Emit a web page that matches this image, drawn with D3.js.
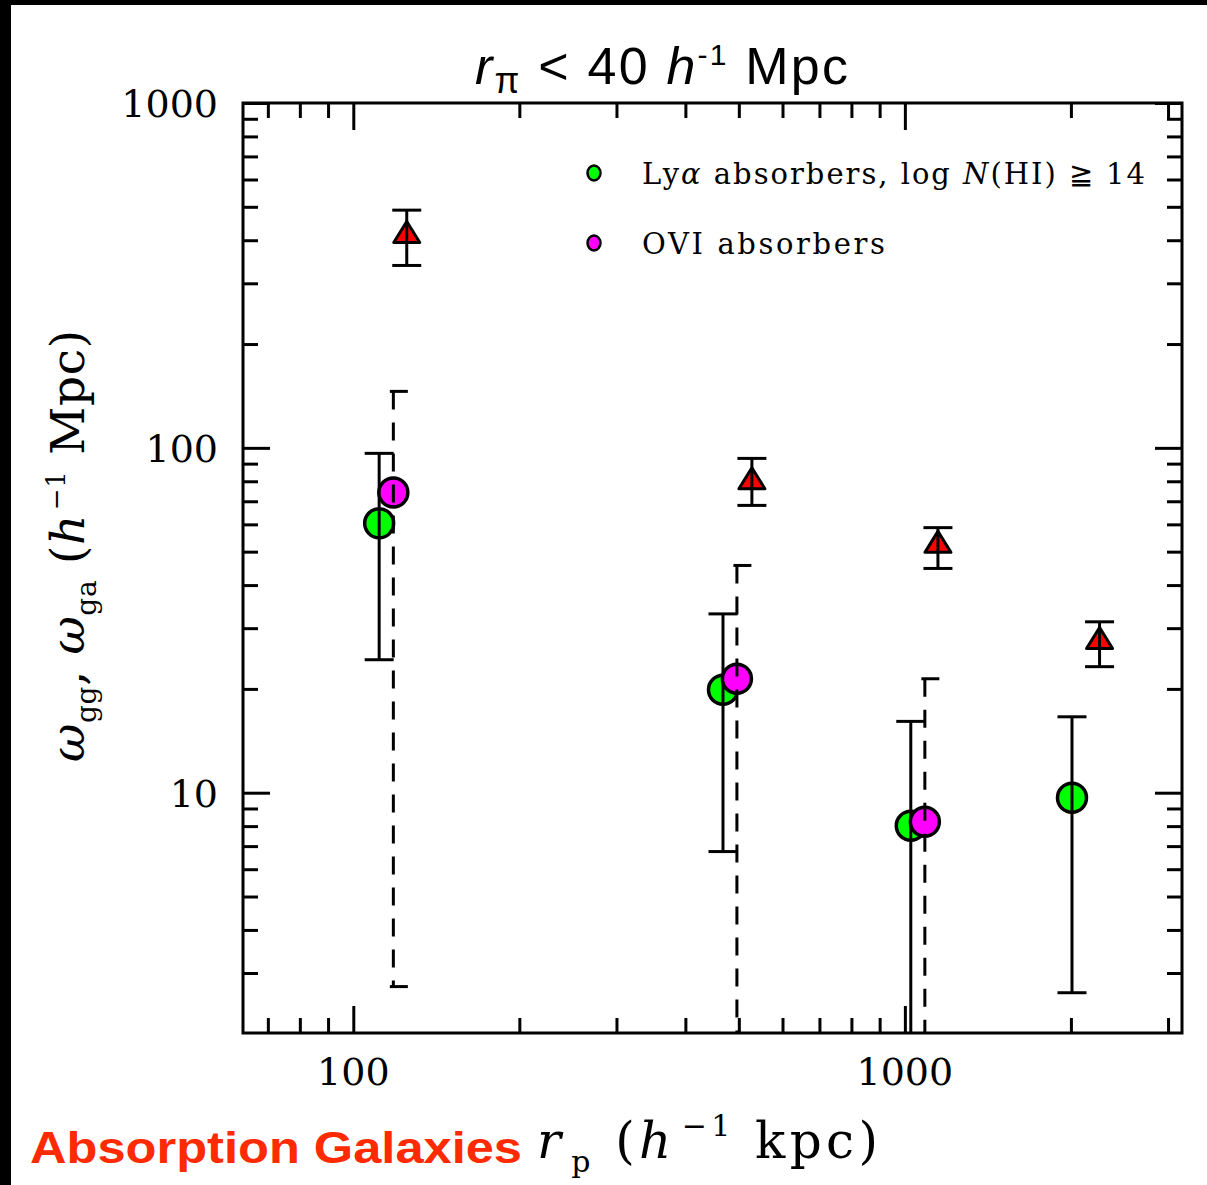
<!DOCTYPE html>
<html><head><meta charset="utf-8">
<script src="https://cdn.jsdelivr.net/npm/d3@7"></script>
<style>body{margin:0;background:#fff}svg{display:block}</style>
</head><body>
<svg id="c" width="1207" height="1185"></svg>
<script>
// ---- data ----
const rpGG   = [125, 528, 1148, 2254];
const wGG    = [421, 81.4, 53.2, 28.0];
const wGGhi  = [489, 93.2, 58.7, 31.3];
const wGGlo  = [338, 68.1, 44.7, 23.2];

const rpLya  = [111.4, 468, 1025, 2009];
const wLya   = [60.4, 19.9, 8.02, 9.67];
const wLyaHi = [96.4, 33.0, 16.1, 16.6];
const wLyaLo = [24.3, 6.75, 1.0, 2.63];

const rpOVI  = [118.2, 496, 1087];
const wOVI   = [74.2, 21.4, 8.24];
const wOVIHi = [145.8, 45.6, 21.4];
const wOVILo = [2.74, 1.0, 1.0];

const xMajor = [100, 1000];
const xMinor = [70, 80, 90, 200, 300, 400, 500, 600, 700, 800, 900, 2000, 3000];
const yMajor = [10, 100, 1000];
const yMinor = [3, 4, 5, 6, 7, 8, 9, 20, 30, 40, 50, 60, 70, 80, 90, 200, 300, 400, 500, 600, 700, 800, 900];
const xTickLabels = ["100", "1000"];
const yTickLabels = ["10", "100", "1000"];

// ---- layout ----
const L = 243, R = 1182, T = 103, B = 1033;
const svg = d3.select("#c");
const x = d3.scaleLog().domain([63.1, 3180]).range([L, R]);
const y = d3.scaleLog().domain([2.01, 1000]).range([B, T]);

// black frame edges
svg.append("rect").attr("x",0).attr("y",0).attr("width",1207).attr("height",5).attr("fill","#000");
svg.append("rect").attr("x",0).attr("y",0).attr("width",11).attr("height",1185).attr("fill","#000");

const serif = "'DejaVu Serif', serif";

function axis(gen, scale, vals, size, tx, ty) {
  const g = svg.append("g").attr("transform", `translate(${tx},${ty})`)
    .call(gen(scale).tickValues(vals).tickSizeInner(size).tickSizeOuter(0).tickFormat(""));
  g.select(".domain").remove();
  g.selectAll("line").attr("stroke","#000").attr("stroke-width",3);
  return g;
}
axis(d3.axisBottom, x, xMajor, -27, 0, B);
axis(d3.axisBottom, x, xMinor, -15, 0, B);
axis(d3.axisTop, x, xMajor, -27, 0, T);
axis(d3.axisTop, x, xMinor, -15, 0, T);
axis(d3.axisLeft, y, yMajor, -27, L, 0);
axis(d3.axisLeft, y, yMinor, -15, L, 0);
axis(d3.axisRight, y, yMajor, -27, R, 0);
axis(d3.axisRight, y, yMinor, -15, R, 0);

svg.append("rect").attr("x",L).attr("y",T).attr("width",R-L).attr("height",B-T)
  .attr("fill","none").attr("stroke","#000").attr("stroke-width",3);

// tick labels
svg.selectAll(".xl").data(xMajor).join("text")
  .attr("x", d => x(d)).attr("y", 1085).attr("text-anchor","middle")
  .attr("font-family", serif).attr("font-size", 38).text((d,i) => xTickLabels[i]);
svg.selectAll(".yl").data(yMajor).join("text")
  .attr("x", 218).attr("y", d => y(d) + 14).attr("text-anchor","end")
  .attr("font-family", serif).attr("font-size", 38).text((d,i) => yTickLabels[i]);

// clip
svg.append("clipPath").attr("id","clip").append("rect")
  .attr("x",L).attr("y",T).attr("width",R-L).attr("height",B-T);
const plot = svg.append("g").attr("clip-path","url(#clip)");

const cap = 14.5;
function errBars(g, xs, lo, hi, dashed) {
  const gg = g.append("g").attr("stroke","#000").attr("stroke-width",3).attr("fill","none");
  xs.forEach((xv, i) => {
    const px = x(xv);
    const yt = y(hi[i]), yb = y(Math.max(lo[i], 0.5));
    const da = dashed ? "18,13" : null;
    gg.append("line").attr("x1",px).attr("x2",px).attr("y1",yt).attr("y2",yb).attr("stroke-dasharray",da);
    gg.append("line").attr("x1",px+cap).attr("x2",px-cap).attr("y1",yt).attr("y2",yt).attr("stroke-dasharray",da);
    gg.append("line").attr("x1",px+cap).attr("x2",px-cap).attr("y1",y(lo[i])).attr("y2",y(lo[i])).attr("stroke-dasharray",da);
  });
}

// Lyα (green)
plot.append("g").selectAll("circle").data(rpLya).join("circle")
  .attr("cx", d => x(d)).attr("cy", (d,i) => y(wLya[i])).attr("r", 14.5)
  .attr("fill","#00ff00").attr("stroke","#000").attr("stroke-width",3.5);
errBars(plot, rpLya, wLyaLo, wLyaHi, false);

// OVI (magenta)
plot.append("g").selectAll("circle").data(rpOVI).join("circle")
  .attr("cx", d => x(d)).attr("cy", (d,i) => y(wOVI[i])).attr("r", 14.5)
  .attr("fill","#ff00ff").attr("stroke","#000").attr("stroke-width",3.5);
errBars(plot, rpOVI, wOVILo, wOVIHi, true);

// galaxy-galaxy (red triangles)
plot.append("g").selectAll("path").data(rpGG).join("path")
  .attr("d", (d,i) => {
    const px = x(d), py = y(wGG[i]);
    return `M${px},${py-11}L${px+13},${py+10}L${px-13},${py+10}Z`;
  })
  .attr("fill","#ff0000").attr("stroke","#000").attr("stroke-width",3).attr("stroke-linejoin","round");
errBars(plot, rpGG, wGGlo, wGGhi, false);

// legend
const legend = [
  {color:"#00ff00", y:173},
  {color:"#ff00ff", y:243}
];
svg.selectAll(".lm").data(legend).join("ellipse")
  .attr("cx",594).attr("cy",d=>d.y).attr("rx",6.5).attr("ry",7.5)
  .attr("fill",d=>d.color).attr("stroke","#000").attr("stroke-width",2.5);

const t1 = svg.append("text").attr("x",642).attr("y",184).attr("font-family",serif).attr("font-size",29)
  .attr("textLength",503).attr("lengthAdjust","spacing");
t1.append("tspan").text("Ly");
t1.append("tspan").attr("font-style","italic").text("α");
t1.append("tspan").text(" absorbers,  log");
t1.append("tspan").attr("font-style","italic").text(" N");
t1.append("tspan").text("(HI) ≧ 14");
svg.append("text").attr("x",642).attr("y",254).attr("font-family",serif).attr("font-size",29)
  .attr("textLength",243).attr("lengthAdjust","spacing").text("OVI absorbers");

// title
const sans = "'Liberation Sans', Arial, sans-serif";
const tt = svg.append("text").attr("x",475).attr("y",84).attr("font-family",sans).attr("font-size",52)
  .attr("textLength",373).attr("lengthAdjust","spacing");
tt.append("tspan").attr("font-style","italic").text("r");
tt.append("tspan").attr("font-size",36).attr("dy",9).text("π");
tt.append("tspan").attr("dy",-9).text(" < 40 ");
tt.append("tspan").attr("font-style","italic").text("h");
tt.append("tspan").attr("font-size",30).attr("dy",-19).text("-1");
tt.append("tspan").attr("dy",19).text(" Mpc");

// x label
svg.append("text").attr("x",30).attr("y",1163).attr("font-family","'Liberation Sans', Arial, sans-serif")
  .attr("font-weight","bold").attr("font-size",45).attr("fill","#ff2a00")
  .attr("textLength",492).attr("lengthAdjust","spacingAndGlyphs").text("Absorption Galaxies");
const xl = svg.append("text").attr("x",537).attr("y",1158).attr("font-family",serif).attr("font-size",50)
  .attr("textLength",341).attr("lengthAdjust","spacing");
xl.append("tspan").attr("font-style","italic").text("r");
xl.append("tspan").attr("font-size",30).attr("dy",14).attr("dx",6).text("p");
xl.append("tspan").attr("dy",-14).text("  (");
xl.append("tspan").attr("font-style","italic").text("h");
xl.append("tspan").attr("font-size",30).attr("dy",-22).attr("dx",6).text("−1");
xl.append("tspan").attr("dy",22).text("  kpc)");

// y label (rotated)
const yl = svg.append("text").attr("transform","translate(84,546) rotate(-90)")
  .attr("text-anchor","middle").attr("font-family",serif).attr("font-size",47)
  .attr("textLength",432).attr("lengthAdjust","spacing");
yl.append("tspan").attr("font-style","italic").text("ω");
yl.append("tspan").attr("font-size",28).attr("dy",12).text("gg");
yl.append("tspan").attr("dy",-12).text(",  ");
yl.append("tspan").attr("font-style","italic").text("ω");
yl.append("tspan").attr("font-size",28).attr("dy",12).text("ga");
yl.append("tspan").attr("dy",-12).text("  (");
yl.append("tspan").attr("font-style","italic").text("h");
yl.append("tspan").attr("font-size",26).attr("dy",-19).attr("dx",4).text("−1");
yl.append("tspan").attr("dy",19).text(" Mpc)");
</script>
</body></html>
